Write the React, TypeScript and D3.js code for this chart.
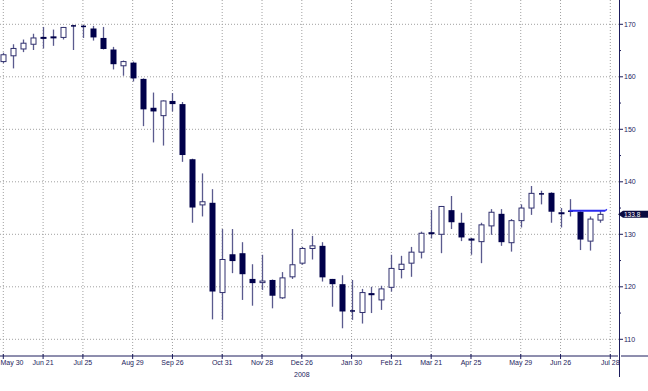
import React from 'react';
import * as d3 from 'd3';

// weekly bars, index 0 = first week shown
const opens = [
  162.9, 164.0, 165.3, 166.2, 167.6, 167.7, 167.5, 169.7, 169.6, 169.2,
  167.4, 165.2, 162.1, 162.7, 159.6, 154.1, 152.6, 155.4, 154.8, 144.3,
  135.6, 136.0, 118.9, 126.2, 126.4, 121.5, 120.8, 121.3, 117.9, 121.9,
  124.5, 127.3, 127.8, 121.5, 120.5, 115.4, 115.1, 118.8, 117.5, 119.9,
  123.3, 124.5, 126.6, 130.4, 130.0, 134.6, 132.2, 129.2, 128.6, 131.6,
  133.9, 128.4, 132.6, 135.0, 137.9, 137.9, 134.2, 134.4, 134.3, 128.7,
  132.7,
];
const highs = [
  164.6, 166.2, 167.1, 168.2, 169.5, 169.0, 169.5, 169.9, 169.9, 169.7,
  169.5, 165.7, 163.1, 162.9, 159.7, 157.0, 155.5, 156.9, 155.2, 144.4,
  141.6, 138.6, 131.0, 131.0, 128.5, 124.3, 126.1, 121.4, 122.8, 131.0,
  127.6, 129.7, 128.5, 121.5, 122.2, 121.3, 119.6, 120.0, 120.2, 126.1,
  125.9, 127.6, 130.5, 134.6, 135.4, 137.3, 134.1, 129.3, 132.2, 134.8,
  134.8, 132.9, 135.7, 139.2, 138.3, 138.0, 135.0, 136.7, 134.4, 133.4,
  134.5,
];
const lows = [
  162.6, 161.6, 164.7, 165.1, 165.4, 165.9, 167.1, 165.1, 167.4, 166.9,
  165.2, 161.4, 160.2, 159.1, 150.6, 147.5, 146.9, 153.4, 143.8, 132.2,
  133.4, 113.8, 113.7, 122.6, 117.5, 116.4, 119.4, 115.9, 117.7, 121.5,
  124.2, 125.2, 121.0, 116.2, 112.1, 113.7, 113.0, 115.0, 115.6, 119.1,
  121.6, 121.9, 125.4, 129.2, 126.4, 131.0, 128.7, 126.1, 124.5, 129.9,
  127.8, 126.7, 131.3, 133.7, 135.7, 132.2, 131.3, 133.4, 127.0, 126.9,
  132.2,
];
const closes = [
  164.2, 165.4, 166.4, 167.4, 167.3, 167.4, 169.4, 169.7, 169.6, 167.5,
  165.3, 162.4, 162.9, 159.7, 153.8, 153.4, 155.4, 154.8, 145.1, 135.1,
  136.2, 119.1, 125.2, 124.9, 122.4, 120.7, 121.1, 118.3, 121.7, 124.2,
  127.3, 127.8, 121.8, 120.5, 115.3, 115.4, 118.9, 118.4, 119.6, 123.5,
  124.3, 126.6, 130.2, 130.1, 135.3, 132.3, 129.4, 128.8, 131.8, 134.2,
  128.5, 132.6, 135.0, 137.8, 137.7, 134.3, 133.9, 134.4, 129.0, 132.9,
  133.8,
];

const tickIndex = [0, 4, 8, 13, 17, 22, 26, 30, 35, 39, 43, 47, 52, 56, 61];
const tickLabels = [
  'May 30', 'Jun 21', 'Jul 25', 'Aug 29', 'Sep 26', 'Oct 31', 'Nov 28', 'Dec 26',
  'Jan 30', 'Feb 21', 'Mar 21', 'Apr 25', 'May 29', 'Jun 26', 'Jul 28',
];
const yearLabel = '2008';
const yearIndex = 30;
const yTicks = [110, 120, 130, 140, 150, 160, 170];
const yMinor = [115, 125, 135, 145, 155, 165];

// blue level line
const levelValue = 134.5;
const levelFrom = 56.9;
const levelTo = 60.5;
const lastLabel = '133.8';

const W = 648;
const H = 391;
const axisX = 619;
const axisY = 356;

const navy = '#1c1c5c';
const darkFill = '#00004a';
const wickColor = '#5a5a8e';
const gridColor = '#a0a0a0';
const font = "'Liberation Sans Narrow', 'Arial Narrow', 'Liberation Sans', sans-serif";

export default function App() {
  const x = d3.scaleLinear().domain([0, 61]).range([3.3, 610.3]);
  const y = d3.scaleLinear().domain([170, 110]).range([24.3, 339.3]);
  const bodyW = 5;
  const lastY = y(closes[closes.length - 1]);

  return (
    <svg width={W} height={H} style={{ position: 'absolute', left: 0, top: 0, background: '#fff' }}>
      {/* grid */}
      {yTicks.map(v => (
        <line key={'gy' + v} x1={0} x2={axisX} y1={y(v)} y2={y(v)}
          stroke={gridColor} strokeWidth={1} strokeDasharray="1,2" />
      ))}
      {tickIndex.map(i => (
        <line key={'gx' + i} x1={x(i)} x2={x(i)} y1={0} y2={axisY}
          stroke={gridColor} strokeWidth={1} strokeDasharray="1,2" />
      ))}

      {/* candles */}
      {opens.map((o, i) => {
        const c = closes[i];
        const cx = Math.round(x(i)) + 0.5;
        const up = c >= o;
        const top = y(Math.max(o, c));
        const bot = y(Math.min(o, c));
        const doji = Math.abs(o - c) < 0.25;
        return (
          <g key={i}>
            <line x1={cx} x2={cx} y1={y(highs[i])} y2={y(lows[i])}
              stroke={wickColor} strokeWidth={1.3} />
            {doji ? (
              <line x1={cx - bodyW / 2} x2={cx + bodyW / 2} y1={y(c)} y2={y(c)}
                stroke={darkFill} strokeWidth={1.5} />
            ) : up ? (
              <rect x={cx - bodyW / 2} y={top} width={bodyW} height={Math.max(bot - top, 1.5)}
                fill="#fff" stroke="#30306e" strokeWidth={1} />
            ) : (
              <rect x={cx - bodyW / 2 - 0.5} y={top} width={bodyW + 1} height={Math.max(bot - top, 2)}
                fill={darkFill} />
            )}
          </g>
        );
      })}

      {/* level line */}
      <line x1={x(levelFrom)} x2={x(levelTo)} y1={y(levelValue)} y2={y(levelValue)}
        stroke="#2b2bf0" strokeWidth={2} />
      <line x1={x(levelTo)} x2={x(levelTo) + 1.5} y1={y(levelValue)} y2={y(levelValue) - 1.5}
        stroke="#2b2bf0" strokeWidth={1.5} />

      {/* axes */}
      <line x1={0} x2={axisX - 1} y1={axisY} y2={axisY} stroke={navy} strokeWidth={1} />
      <line x1={axisX + 2} x2={W} y1={axisY} y2={axisY} stroke={navy} strokeWidth={1} />
      <line x1={axisX + 0.5} x2={axisX + 0.5} y1={0} y2={377} stroke={navy} strokeWidth={1} />

      {yTicks.map(v => (
        <g key={'yt' + v}>
          <line x1={axisX} x2={axisX + 4} y1={y(v)} y2={y(v)} stroke={navy} strokeWidth={1} />
          <text x={axisX + 5} y={y(v) + 2.5} fontSize={7} fontFamily={font} fill={navy}>{v}</text>
        </g>
      ))}
      {yMinor.map(v => (
        <line key={'ym' + v} x1={axisX} x2={axisX + 2} y1={y(v)} y2={y(v)} stroke={navy} strokeWidth={1} />
      ))}

      {tickIndex.map((i, k) => (
        <g key={'xt' + i}>
          <line x1={x(i)} x2={x(i)} y1={axisY - 2} y2={axisY + 3} stroke={navy} strokeWidth={1} />
          <text x={k === 0 ? 0.5 : x(i)} y={axisY + 9} textAnchor={k === 0 ? 'start' : 'middle'}
            fontSize={7} fontFamily={font} fill={navy}>
            {tickLabels[k]}
          </text>
        </g>
      ))}
      <text x={x(yearIndex)} y={axisY + 21} textAnchor="middle" fontSize={7} fontFamily={font} fill={navy}>
        {yearLabel}
      </text>

      {/* last price tag */}
      <path d={`M${axisX - 1},${lastY} l5,-3.5 h26 v7 h-26 z`} fill="#0a0a40" />
      <text x={axisX + 5} y={lastY + 2.3} fontSize={6.5} fontFamily={font} fill="#fff">
        {lastLabel}
      </text>
    </svg>
  );
}
